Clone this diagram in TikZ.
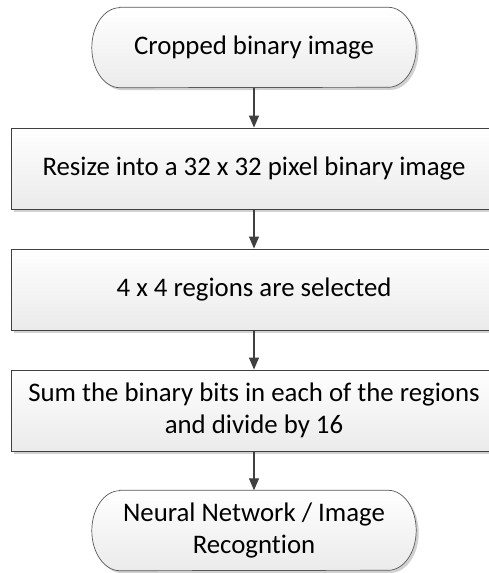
\documentclass[tikz,border=0pt]{standalone}
\usepackage{fontspec}
\setmainfont[Ligatures=CommonOff]{Carlito}
\usetikzlibrary{shadows,arrows.meta}
\begin{document}
\begin{tikzpicture}[x=1pt,y=1pt,
  label font/.style={font=\fontsize{26.8}{32.5}\selectfont, align=center},
  fillshade/.style={top color=white, bottom color=black!8,
    drop shadow={shadow xshift=2.5pt, shadow yshift=-2.5pt, opacity=0.18, fill=black}},
  procbox/.style={fillshade, draw=black!75, line width=0.9pt, rectangle,
    minimum width=486pt, minimum height=81pt, inner sep=0pt, label font},
  termtext/.style={rectangle, minimum width=324pt, minimum height=80pt, inner sep=0pt, label font},
  termline/.style={fillshade, draw=black!65, line width=0.7pt},
  link/.style={draw=black!75, line width=1.2pt, -{Triangle[length=12pt,width=10pt]}}]
\useasboundingbox (0,0) rectangle (489,-573);

% terminator outline: flat top and bottom with elliptical ends
\newcommand{\terminator}[1]{%
  \path[termline] ([xshift=28pt]#1.north west) -- ([xshift=-28pt]#1.north east)
    arc[start angle=90, end angle=-90, x radius=28pt, y radius=40pt]
    -- ([xshift=28pt]#1.south west)
    arc[start angle=270, end angle=90, x radius=28pt, y radius=40pt] -- cycle;}

\coordinate (tpos) at (254,-47.5);
\coordinate (bpos) at (254,-530.5);
\node[termtext] (cropbox) at (tpos) {};
\terminator{cropbox}
\node[termtext] (crop) at (tpos) {Cropped binary image};

\node[procbox] (resize)  at (254,-168.5) {Resize into a 32 x 32 pixel binary image};
\node[procbox] (regions) at (254,-289.5) {4 x 4 regions are selected};
\node[procbox] (sum)     at (254,-410.5) {Sum the binary bits in each of the regions\\and divide by 16};

\node[termtext] (nnbox) at (bpos) {};
\terminator{nnbox}
\node[termtext] (nn) at (bpos) {Neural Network / Image\\Recogntion};

\draw[link] (crop) -- (resize);
\draw[link] (resize) -- (regions);
\draw[link] (regions) -- (sum);
\draw[link] (sum) -- (nn);
\end{tikzpicture}
\end{document}
